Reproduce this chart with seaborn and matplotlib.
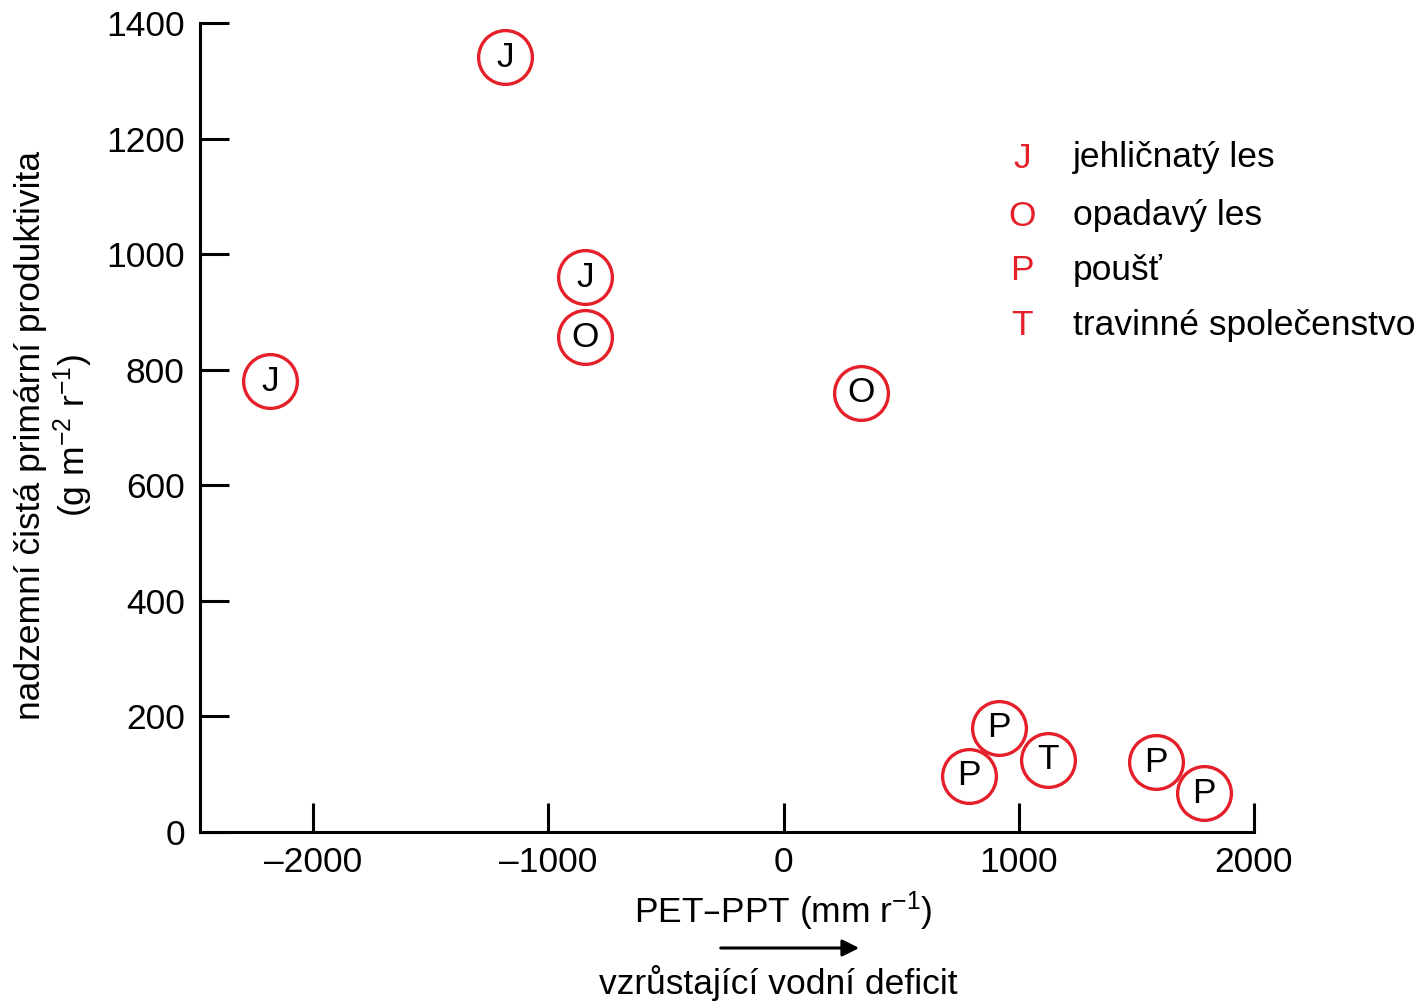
import matplotlib
matplotlib.use("Agg")
import matplotlib.pyplot as plt
import seaborn as sns
import pandas as pd

# Data
pet_ppt = [-1183, -2183, -843, -843, 328, 915, 1123, 787, 1583, 1787]
npp = [1341, 780, 960, 856, 760, 180, 125, 97, 121, 67]
letters = ["J", "J", "J", "O", "O", "P", "T", "P", "P", "P"]
legend_letters = ["J", "O", "P", "T"]
legend_labels = ["jehličnatý les", "opadavý les", "poušť", "travinné společenstvo"]
x_ticks = [-2000, -1000, 0, 1000, 2000]
y_ticks = [0, 200, 400, 600, 800, 1000, 1200, 1400]

RED = "#e5202a"
FS = 25.5

sns.set_theme(style="white")
plt.rcParams["font.family"] = ["Liberation Sans", "DejaVu Sans"]
plt.rcParams["mathtext.default"] = "regular"
plt.rcParams["text.color"] = "black"
plt.rcParams["axes.labelcolor"] = "black"

df = pd.DataFrame({"x": pet_ppt, "y": npp, "typ": letters})

fig = plt.figure(figsize=(14.25, 10.02), dpi=100)
ax = fig.add_axes([0.1404, 0.1697, 0.7403, 0.8073])

sns.scatterplot(data=df, x="x", y="y", ax=ax, s=1500, color="white",
                edgecolor=RED, linewidth=2.4, legend=False, zorder=3, clip_on=False)
for xi, yi, t in zip(pet_ppt, npp, letters):
    ax.text(xi, yi, t, ha="center", va="center", fontsize=FS, color="black",
            zorder=4)

ax.set_xlim(-2481, 2005)
ax.set_ylim(0, 1400)
ax.set_xticks(x_ticks)
ax.set_xticklabels([str(v).replace("-", "\u2013") for v in x_ticks])
ax.set_yticks(y_ticks)
ax.set_yticklabels([str(v) for v in y_ticks])
for s in ["top", "right"]:
    ax.spines[s].set_visible(False)
for s in ["left", "bottom"]:
    ax.spines[s].set_linewidth(2.2)
    ax.spines[s].set_color("black")
ax.spines["bottom"].set_bounds(-2481, 2000)
ax.tick_params(axis="both", which="major", direction="in", length=21, width=2.2,
               labelsize=FS, colors="black", bottom=True, left=True)
ax.tick_params(axis="x", pad=10)
ax.tick_params(axis="y", pad=11)

ax.set_xlabel("PET\u2013PPT (mm r$^{-1}$)", fontsize=FS, labelpad=8, color="black")
ax.set_ylabel("nadzemní čistá primární produktivita\n(g m$^{-2}$ r$^{-1}$)",
              fontsize=FS, labelpad=8, linespacing=1.15, color="black")
ax.xaxis.label.set_x(0.553)
ax.yaxis.label.set_y(0.49)

# arrow and subtitle
ax.annotate("", xy=(862 / 1425, 1 - 948 / 1002), xytext=(718 / 1425, 1 - 948 / 1002),
            xycoords="figure fraction", textcoords="figure fraction",
            arrowprops=dict(arrowstyle="-|>", color="black", lw=2.2,
                            mutation_scale=25))
fig.text(778 / 1425, 1 - 983 / 1002, "vzrůstající vodní deficit", ha="center",
         va="center", fontsize=FS, color="black")

# legend as text
rows = [158, 216, 271, 326]
for yy, l, lab in zip(rows, legend_letters, legend_labels):
    fig.text(1022 / 1425, 1 - yy / 1002, l, ha="center", va="center",
             fontsize=FS, color=RED)
    fig.text(1073 / 1425, 1 - yy / 1002, lab, ha="left", va="center",
             fontsize=FS, color="black")

fig.savefig("out.png", dpi=100)
